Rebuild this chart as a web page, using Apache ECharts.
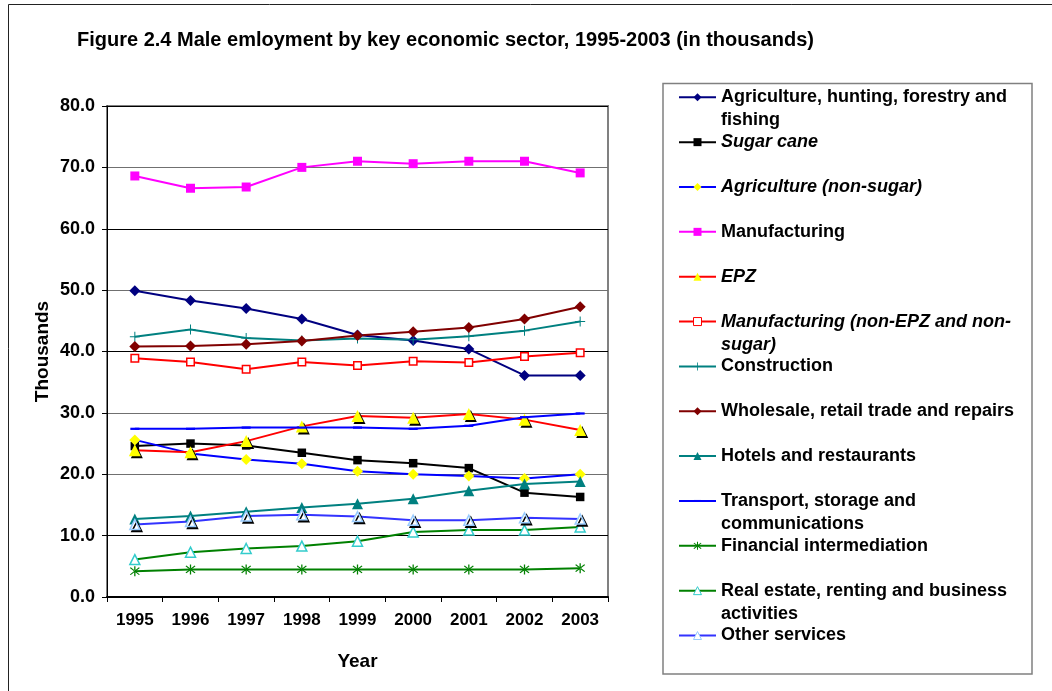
<!DOCTYPE html>
<html>
<head>
<meta charset="utf-8">
<script src="https://cdn.jsdelivr.net/npm/echarts@6/dist/echarts.min.js"></script>
<style>
  html, body { margin: 0; padding: 0; background: #fff; }
  #chart { width: 1052px; height: 691px; }
</style>
</head>
<body>
<div id="chart"></div>
<script>
// Male employment by key economic sector, thousands
const years = ['1995', '1996', '1997', '1998', '1999', '2000', '2001', '2002', '2003'];

const agriculture         = [49.9, 48.3, 47.0, 45.3, 42.7, 41.8, 40.4, 36.1, 36.1];
const sugarCane           = [24.6, 25.0, 24.7, 23.5, 22.3, 21.8, 21.0, 17.0, 16.3];
const agricultureNonSugar = [25.6, 23.4, 22.4, 21.7, 20.5, 20.0, 19.7, 19.3, 20.0];
const manufacturing       = [68.6, 66.6, 66.8, 70.0, 71.0, 70.6, 71.0, 71.0, 69.1];
const epz                 = [23.9, 23.6, 25.4, 27.8, 29.5, 29.2, 29.8, 28.9, 27.2];
const manufacturingOther  = [38.9, 38.3, 37.1, 38.3, 37.7, 38.4, 38.2, 39.2, 39.8];
const construction        = [42.4, 43.6, 42.2, 41.8, 42.1, 41.9, 42.5, 43.4, 44.9];
const wholesale           = [40.8, 40.9, 41.2, 41.7, 42.6, 43.2, 43.9, 45.3, 47.3];
const hotels              = [12.7, 13.2, 13.9, 14.6, 15.2, 16.0, 17.3, 18.4, 18.8];
const transport           = [27.4, 27.4, 27.6, 27.6, 27.6, 27.4, 27.9, 29.3, 29.9];
const financial           = [4.2, 4.5, 4.5, 4.5, 4.5, 4.5, 4.5, 4.5, 4.7];
const realEstate          = [6.1, 7.3, 7.9, 8.3, 9.1, 10.6, 10.9, 10.9, 11.4];
const otherServices       = [11.8, 12.3, 13.2, 13.4, 13.1, 12.5, 12.5, 12.9, 12.7];

const yTicks = { min: 0, max: 80, interval: 10 };

const FONT = '"Liberation Sans", Arial, sans-serif';

// Marker shapes
const PLUS = 'path://M-1,-10H1V-1H10V1H1V10H-1V1H-10V-1H-1Z';
const ASTERISK = 'path://M-1,-10H1V10H-1Z' +
  'M6.36,7.78L7.78,6.36L-6.36,-7.78L-7.78,-6.36Z' +
  'M-6.36,7.78L-7.78,6.36L6.36,-7.78L7.78,-6.36Z';
const DASH = 'path://M0,0M0,8M0,3H8V5H0Z';

// name, values, line colour, marker, marker fill, marker border, italic, legend text lines
const sectors = [
  { name: 'Agriculture, hunting, forestry and fishing', data: agriculture, line: '#000080',
    symbol: 'diamond', size: 11, fill: '#000080',
    wrap: ['Agriculture, hunting, forestry and', 'fishing'] },
  { name: 'Sugar cane', data: sugarCane, line: '#000000',
    symbol: 'rect', size: 8.5, fill: '#000000', italic: true },
  { name: 'Agriculture (non-sugar)', data: agricultureNonSugar, line: '#0000FF',
    symbol: 'diamond', size: 11, fill: '#FFFF00', italic: true },
  { name: 'Manufacturing', data: manufacturing, line: '#FF00FF',
    symbol: 'rect', size: 9, fill: '#FF00FF' },
  { name: 'EPZ', data: epz, line: '#FF0000',
    symbol: 'triangle', size: 12, fill: '#FFFF00', shadow: true, italic: true },
  { name: 'Manufacturing (non-EPZ and non-sugar)', data: manufacturingOther, line: '#FF0000',
    symbol: 'rect', size: 7.5, fill: '#FFFFFF', border: '#FF0000', italic: true,
    wrap: ['Manufacturing (non-EPZ and non-', 'sugar)'] },
  { name: 'Construction', data: construction, line: '#008080',
    symbol: PLUS, size: 10, fill: '#008080' },
  { name: 'Wholesale, retail trade and repairs', data: wholesale, line: '#800000',
    symbol: 'diamond', size: 11, fill: '#800000' },
  { name: 'Hotels and restaurants', data: hotels, line: '#008080',
    symbol: 'triangle', size: 11, fill: '#008080' },
  { name: 'Transport, storage and communications', data: transport, line: '#0000FF',
    symbol: DASH, size: 9, fill: '#0000FF',
    wrap: ['Transport, storage and', 'communications'] },
  { name: 'Financial intermediation', data: financial, line: '#008000',
    symbol: ASTERISK, size: 10, fill: '#008000' },
  { name: 'Real estate, renting and business activities', data: realEstate, line: '#008000',
    symbol: 'triangle', size: 10, fill: '#FFFFFF', border: '#33CCCC',
    wrap: ['Real estate, renting and business', 'activities'] },
  { name: 'Other services', data: otherServices, line: '#3333FF',
    symbol: 'triangle', size: 10, fill: '#FFFFFF', border: '#99CCFF', shadow: true }
];

const series = sectors.map(s => ({
  name: s.name,
  type: 'line',
  data: s.data,
  symbol: s.symbol,
  symbolSize: s.size,
  showAllSymbol: true,
  lineStyle: { color: s.line, width: 2 },
  itemStyle: Object.assign(
    { color: s.fill, borderColor: s.border || s.fill, borderWidth: s.border ? 1.5 : 0 },
    s.shadow ? { shadowColor: '#000', shadowOffsetX: 2, shadowOffsetY: 2, shadowBlur: 0 } : {}
  ),
  emphasis: { disabled: true },
  animation: false
}));

// One legend block per sector, stacked at a fixed row pitch.
// Wrapped entries get an empty first row so the marker lines up with their first line.
const LINE_H = 23;
const LEGEND_FONT = 18;
const legends = sectors.map((s, i) => {
  const font = {
    fontFamily: FONT, fontSize: LEGEND_FONT, fontWeight: 'bold', color: '#000',
    fontStyle: s.italic ? 'italic' : 'normal', lineHeight: LINE_H
  };
  return {
    left: 678,
    top: 97.3 + i * 44.85 - (s.wrap ? LINE_H * 1.5 : LINE_H / 2),
    orient: 'vertical',
    padding: 0,
    itemGap: 0,
    itemWidth: 37,
    itemHeight: 10,
    selectedMode: false,
    data: [{ name: s.name, itemStyle: { shadowColor: 'rgba(0,0,0,0)', borderWidth: s.border ? 1 : 0 } }],
    formatter: () => s.wrap ? '{p| }\n{t|' + s.wrap[0] + '}\n{t|' + s.wrap[1] + '}' : s.name,
    textStyle: Object.assign({}, font, {
      rich: { p: { fontSize: LEGEND_FONT, lineHeight: LINE_H }, t: font }
    })
  };
});

const chart = echarts.init(document.getElementById('chart'), null, { renderer: 'canvas' });
chart.setOption({
  backgroundColor: '#ffffff',
  animation: false,
  title: {
    text: 'Figure 2.4 Male emloyment by key economic sector, 1995-2003 (in thousands)',
    left: 77, top: 30, padding: 0,
    textStyle: { fontFamily: FONT, fontSize: 20, fontWeight: 'bold', color: '#000' }
  },
  graphic: [
    { type: 'rect', shape: { x: 8.5, y: 4.5, width: 1100, height: 800 },
      style: { fill: 'none', stroke: '#222', lineWidth: 1 }, silent: true },
    { type: 'rect', shape: { x: 663, y: 83.5, width: 369, height: 590.5 },
      style: { fill: 'none', stroke: '#808080', lineWidth: 1.5 }, silent: true }
  ],
  legend: legends,
  grid: {
    left: 107, top: 106, right: 444, bottom: 94,
    show: true, borderColor: '#808080', borderWidth: 2, backgroundColor: 'transparent'
  },
  xAxis: {
    type: 'category',
    data: years,
    boundaryGap: true,
    name: 'Year',
    nameLocation: 'middle',
    nameGap: 55,
    nameTextStyle: { fontFamily: FONT, fontSize: 19, fontWeight: 'bold', color: '#000' },
    axisLine: { lineStyle: { color: '#000', width: 2 } },
    axisTick: { show: true, inside: false, length: 5, interval: 0, alignWithLabel: false,
      lineStyle: { color: '#000', width: 1 } },
    axisLabel: { fontFamily: FONT, fontSize: 17, fontWeight: 'bold', color: '#000', margin: 15, interval: 0 },
    splitLine: { show: false }
  },
  yAxis: {
    type: 'value',
    min: yTicks.min, max: yTicks.max, interval: yTicks.interval,
    name: 'Thousands',
    nameLocation: 'middle',
    nameGap: 55,
    nameTextStyle: { fontFamily: FONT, fontSize: 19, fontWeight: 'bold', color: '#000' },
    axisLine: { show: true, lineStyle: { color: '#000', width: 1 } },
    axisTick: { show: true, inside: false, length: 5, lineStyle: { color: '#000', width: 1 } },
    axisLabel: { fontFamily: FONT, fontSize: 18, fontWeight: 'bold', color: '#000', margin: 12,
      formatter: v => v.toFixed(1) },
    splitLine: { show: true, lineStyle: { width: 1,
      color: ['#000', '#000', '#707070', '#707070', '#000', '#707070', '#000', '#707070', '#000'] } }
  },
  series: series
});
</script>
</body>
</html>
